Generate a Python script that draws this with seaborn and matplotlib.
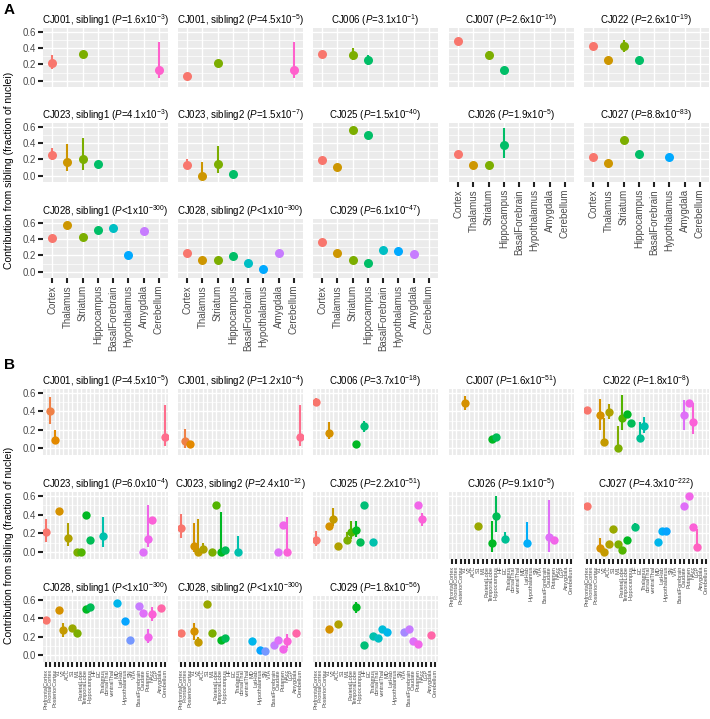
import numpy as np
import pandas as pd
import seaborn as sns
import matplotlib.pyplot as plt
from matplotlib.ticker import MultipleLocator

# ---------------- data ----------------
A_REGIONS = ["Cortex", "Thalamus", "Striatum", "Hippocampus", "BasalForebrain",
             "Hypothalamus", "Amygdala", "Cerebellum"]

B_REGIONS = ["PrefrontalCortex", "FrontalCortex", "PosteriorCortex", "V1", "V2", "ACC",
             "S1", "M1", "ParietalLobe", "TemporalLobe", "Hippocampus", "HF", "EC",
             "Thalamus", "dorsalThal", "ventralThal", "MD", "LatHab", "Hypothalamus",
             "SN", "VTA", "BasalForebrain", "Caudate", "Putamen", "NAcc", "LGP",
             "Amygdala", "Cerebellum"]

# (region, fraction from sibling, ci low, ci high) -- None = no interval shown
A_CJ001_S1 = [("Cortex", 0.22, 0.15, 0.31), ("Striatum", 0.33, None, None), ("Cerebellum", 0.13, 0.03, 0.48)]
A_CJ001_S2 = [("Cortex", 0.06, 0.02, 0.10), ("Striatum", 0.22, None, None), ("Cerebellum", 0.13, 0.03, 0.48)]
A_CJ006 = [("Cortex", 0.33, None, None), ("Striatum", 0.32, 0.26, 0.40), ("Hippocampus", 0.26, 0.19, 0.32)]
A_CJ007 = [("Cortex", 0.49, None, None), ("Striatum", 0.32, 0.27, 0.37), ("Hippocampus", 0.13, None, None)]
A_CJ022 = [("Cortex", 0.43, None, None), ("Thalamus", 0.26, None, None), ("Striatum", 0.42, 0.35, 0.50),
           ("Hippocampus", 0.26, None, None)]
A_CJ023_S1 = [("Cortex", 0.26, 0.19, 0.34), ("Thalamus", 0.17, 0.065, 0.39), ("Striatum", 0.20, 0.07, 0.46),
              ("Hippocampus", 0.14, None, None)]
A_CJ023_S2 = [("Cortex", 0.13, 0.10, 0.20), ("Thalamus", 0.0, 0.0, 0.17), ("Striatum", 0.14, 0.04, 0.37),
              ("Hippocampus", 0.02, None, None)]
A_CJ025 = [("Cortex", 0.19, None, None), ("Thalamus", 0.11, None, None), ("Striatum", 0.56, None, None),
           ("Hippocampus", 0.50, None, None)]
A_CJ026 = [("Cortex", 0.27, None, None), ("Thalamus", 0.13, 0.11, 0.17), ("Striatum", 0.13, None, None),
           ("Hippocampus", 0.38, 0.22, 0.58)]
A_CJ027 = [("Cortex", 0.23, None, None), ("Thalamus", 0.16, None, None), ("Striatum", 0.44, None, None),
           ("Hippocampus", 0.27, None, None), ("Hypothalamus", 0.23, None, None)]
A_CJ028_S1 = [("Cortex", 0.41, None, None), ("Thalamus", 0.57, None, None), ("Striatum", 0.42, None, None),
              ("Hippocampus", 0.51, None, None), ("BasalForebrain", 0.53, None, None),
              ("Hypothalamus", 0.21, None, None), ("Amygdala", 0.50, None, None)]
A_CJ028_S2 = [("Cortex", 0.23, None, None), ("Thalamus", 0.14, None, None), ("Striatum", 0.15, None, None),
              ("Hippocampus", 0.19, None, None), ("BasalForebrain", 0.11, None, None),
              ("Hypothalamus", 0.04, None, None), ("Amygdala", 0.23, None, None)]
A_CJ029 = [("Cortex", 0.36, None, None), ("Thalamus", 0.23, None, None), ("Striatum", 0.14, None, None),
           ("Hippocampus", 0.11, None, None), ("BasalForebrain", 0.27, None, None),
           ("Hypothalamus", 0.25, None, None), ("Amygdala", 0.22, None, None)]

B_CJ001_S1 = [("FrontalCortex", 0.40, 0.26, 0.56), ("PosteriorCortex", 0.09, 0.05, 0.20),
              ("Cerebellum", 0.12, 0.02, 0.47)]
B_CJ001_S2 = [("FrontalCortex", 0.08, 0.0, 0.21), ("PosteriorCortex", 0.04, None, None),
              ("Cerebellum", 0.12, 0.02, 0.47)]
B_CJ006 = [("PrefrontalCortex", 0.50, 0.46, 0.55), ("V1", 0.17, 0.10, 0.28), ("TemporalLobe", 0.04, None, None),
           ("HF", 0.24, 0.18, 0.30)]
B_CJ007 = [("V1", 0.49, 0.42, 0.57), ("TemporalLobe", 0.10, None, None), ("Hippocampus", 0.12, None, None)]
B_CJ022 = [("PrefrontalCortex", 0.42, None, None), ("V1", 0.36, 0.20, 0.54), ("V2", 0.07, 0.07, 0.33),
           ("ACC", 0.39, 0.32, 0.48), ("M1", 0.0, 0.0, 0.24), ("ParietalLobe", 0.33, 0.20, 0.58),
           ("TemporalLobe", 0.37, None, None), ("Hippocampus", 0.27, None, None), ("EC", 0.11, 0.11, 0.28),
           ("Thalamus", 0.24, 0.16, 0.34), ("Caudate", 0.36, 0.20, 0.52), ("Putamen", 0.49, None, None),
           ("NAcc", 0.28, 0.15, 0.49)]
B_CJ023_S1 = [("PrefrontalCortex", 0.21, 0.11, 0.36), ("V1", 0.44, None, None), ("ACC", 0.15, 0.07, 0.31),
              ("M1", 0.0, None, None), ("ParietalLobe", 0.0, None, None), ("TemporalLobe", 0.40, None, None),
              ("Hippocampus", 0.13, None, None), ("Thalamus", 0.17, 0.05, 0.38), ("Caudate", 0.0, None, None),
              ("Putamen", 0.14, 0.05, 0.51), ("NAcc", 0.34, None, None)]
B_CJ023_S2 = [("PrefrontalCortex", 0.26, 0.15, 0.41), ("V1", 0.07, 0.0, 0.31), ("V2", 0.0, 0.0, 0.35),
              ("ACC", 0.03, 0.0, 0.10), ("M1", 0.0, None, None), ("ParietalLobe", 0.51, None, None),
              ("TemporalLobe", 0.0, 0.0, 0.43), ("Hippocampus", 0.02, None, None), ("Thalamus", 0.0, 0.0, 0.17),
              ("Caudate", 0.0, None, None), ("Putamen", 0.29, None, None), ("NAcc", 0.0, 0.0, 0.38)]
B_CJ025 = [("PrefrontalCortex", 0.13, 0.06, 0.23), ("V1", 0.28, None, None), ("V2", 0.36, 0.28, 0.47),
           ("ACC", 0.07, None, None), ("M1", 0.13, 0.09, 0.22), ("ParietalLobe", 0.21, 0.14, 0.33),
           ("TemporalLobe", 0.24, 0.16, 0.33), ("Hippocampus", 0.11, None, None), ("HF", 0.51, None, None),
           ("Thalamus", 0.11, None, None), ("Putamen", 0.51, None, None), ("NAcc", 0.35, 0.28, 0.42)]
B_CJ026 = [("S1", 0.28, None, None), ("TemporalLobe", 0.10, 0.0, 0.33), ("Hippocampus", 0.39, 0.22, 0.60),
           ("EC", 0.14, 0.10, 0.21), ("LatHab", 0.10, 0.06, 0.32), ("Caudate", 0.16, 0.0, 0.56),
           ("Putamen", 0.13, None, None)]
B_CJ027 = [("PrefrontalCortex", 0.49, None, None), ("V1", 0.04, 0.0, 0.15), ("V2", 0.0, None, None),
           ("ACC", 0.09, None, None), ("S1", 0.25, None, None), ("M1", 0.09, None, None),
           ("ParietalLobe", 0.02, None, None), ("TemporalLobe", 0.13, None, None), ("HF", 0.27, 0.24, 0.31),
           ("MD", 0.11, None, None), ("LatHab", 0.23, None, None), ("Hypothalamus", 0.23, None, None),
           ("Caudate", 0.49, None, None), ("Putamen", 0.60, None, None), ("NAcc", 0.27, None, None),
           ("LGP", 0.05, 0.05, 0.25)]
B_CJ028_S1 = [("PrefrontalCortex", 0.38, None, None), ("V1", 0.49, None, None), ("V2", 0.27, 0.20, 0.35),
              ("S1", 0.30, None, None), ("M1", 0.24, None, None), ("TemporalLobe", 0.50, None, None),
              ("Hippocampus", 0.52, None, None), ("MD", 0.57, None, None), ("Hypothalamus", 0.37, None, None),
              ("SN", 0.16, None, None), ("BasalForebrain", 0.54, None, None), ("Caudate", 0.46, None, None),
              ("Putamen", 0.20, 0.13, 0.28), ("NAcc", 0.45, 0.37, 0.53), ("Amygdala", 0.51, None, None)]
B_CJ028_S2 = [("PrefrontalCortex", 0.24, None, None), ("V1", 0.26, 0.17, 0.35), ("V2", 0.14, 0.10, 0.20),
              ("S1", 0.56, None, None), ("M1", 0.24, None, None), ("TemporalLobe", 0.17, None, None),
              ("Hippocampus", 0.19, None, None), ("MD", 0.15, None, None), ("Hypothalamus", 0.06, None, None),
              ("SN", 0.04, None, None), ("BasalForebrain", 0.11, None, None), ("Caudate", 0.17, None, None),
              ("Putamen", 0.07, None, None), ("NAcc", 0.15, 0.08, 0.23), ("Amygdala", 0.24, None, None)]
B_CJ029 = [("V1", 0.28, None, None), ("ACC", 0.34, None, None), ("TemporalLobe", 0.52, 0.46, 0.58),
           ("HF", 0.11, None, None), ("Thalamus", 0.21, None, None), ("dorsalThal", 0.19, None, None),
           ("ventralThal", 0.28, None, None), ("MD", 0.25, None, None), ("VTA", 0.25, None, None),
           ("BasalForebrain", 0.28, None, None), ("Caudate", 0.15, None, None), ("Putamen", 0.12, None, None),
           ("Amygdala", 0.22, None, None)]

FACETS = ["CJ001, sibling1", "CJ001, sibling2", "CJ006", "CJ007", "CJ022",
          "CJ023, sibling1", "CJ023, sibling2", "CJ025", "CJ026", "CJ027",
          "CJ028, sibling1", "CJ028, sibling2", "CJ029"]
A_PVAL = [("=", "1.6", "-3"), ("=", "4.5", "-5"), ("=", "3.1", "-1"), ("=", "2.6", "-16"), ("=", "2.6", "-19"),
          ("=", "4.1", "-3"), ("=", "1.5", "-7"), ("=", "1.5", "-40"), ("=", "1.9", "-5"), ("=", "8.8", "-83"),
          ("<", "1", "-300"), ("<", "1", "-300"), ("=", "6.1", "-47")]
B_PVAL = [("=", "4.5", "-5"), ("=", "1.2", "-4"), ("=", "3.7", "-18"), ("=", "1.6", "-51"), ("=", "1.8", "-8"),
          ("=", "6.0", "-4"), ("=", "2.4", "-12"), ("=", "2.2", "-51"), ("=", "9.1", "-5"), ("=", "4.3", "-222"),
          ("<", "1", "-300"), ("<", "1", "-300"), ("=", "1.8", "-56")]

A_DATA = [A_CJ001_S1, A_CJ001_S2, A_CJ006, A_CJ007, A_CJ022, A_CJ023_S1, A_CJ023_S2,
          A_CJ025, A_CJ026, A_CJ027, A_CJ028_S1, A_CJ028_S2, A_CJ029]
B_DATA = [B_CJ001_S1, B_CJ001_S2, B_CJ006, B_CJ007, B_CJ022, B_CJ023_S1, B_CJ023_S2,
          B_CJ025, B_CJ026, B_CJ027, B_CJ028_S1, B_CJ028_S2, B_CJ029]


# ggplot-style hue palette (HCL, l=65, c=100)
def hue_pal(n, l=65.0, c=100.0):
    out = []
    m = np.array([[3.2406, -1.5372, -0.4986], [-0.9689, 1.8758, 0.0415], [0.0557, -0.2040, 1.0570]])
    for h in np.deg2rad(np.linspace(15, 375, n + 1)[:n]):
        u, v = c * np.cos(h), c * np.sin(h)
        Y = ((l + 16) / 116) ** 3
        up = u / (13 * l) + 0.19783
        vp = v / (13 * l) + 0.46832
        X = Y * 9 * up / (4 * vp)
        Z = Y * (12 - 3 * up - 20 * vp) / (4 * vp)
        rgb = np.clip(m @ np.array([X, Y, Z]), 0, None)
        rgb = np.where(rgb <= 0.0031308, 12.92 * rgb, 1.055 * rgb ** (1 / 2.4) - 0.055)
        out.append(tuple(np.clip(rgb, 0, 1)))
    return out


plt.rcParams["font.family"] = ["Liberation Sans", "DejaVu Sans"]
plt.rcParams["mathtext.fontset"] = "custom"
plt.rcParams["mathtext.rm"] = "Liberation Sans"
plt.rcParams["mathtext.it"] = "Liberation Sans:italic"

W, H = 710, 719
COL_X = [43, 178, 313, 449, 584]
PANEL_W = 125
A_ROWS = [(28, 87), (123, 182), (219, 278)]
B_ROWS = [(389, 455), (492, 559), (596, 662)]

fig = plt.figure(figsize=(W / 100, H / 100), dpi=100)


def draw_group(data, pvals, order, rows, dot, xfs, tick_len):
    colors = hue_pal(len(order))
    n = len(data)
    for k, pts in enumerate(data):
        r, c = divmod(k, 5)
        top, bot = rows[r]
        ax = fig.add_axes([COL_X[c] / W, 1 - bot / H, PANEL_W / W, (bot - top) / H])
        df = pd.DataFrame(pts, columns=["region", "frac", "lo", "hi"])
        ci = df.dropna(subset=["lo"])
        if len(ci):
            idx = [order.index(g) for g in ci["region"]]
            ax.vlines(idx, ci["lo"].astype(float), ci["hi"].astype(float),
                      colors=[colors[i] for i in idx], lw=1.5, zorder=2)
        sns.stripplot(data=df, x="region", y="frac", hue="region", order=order, hue_order=order,
                      palette=colors, jitter=False, size=dot, linewidth=0, legend=False,
                      ax=ax, zorder=3)
        ax.set_facecolor("#EBEBEB")
        for s in ax.spines.values():
            s.set_visible(False)
        ax.set_xlim(-0.6, len(order) - 0.4)
        ax.set_ylim(-0.075, 0.645)
        ax.set_yticks([0, 0.2, 0.4, 0.6])
        ax.yaxis.set_minor_locator(MultipleLocator(0.1))
        ax.set_axisbelow(True)
        ax.grid(True, which="major", color="white", lw=1.0)
        ax.grid(True, which="minor", axis="y", color="white", lw=0.5)
        ax.set_xlabel("")
        ax.set_ylabel("")
        ax.tick_params(which="minor", length=0)
        ax.tick_params(axis="both", color="#222222", width=1.5, length=tick_len,
                       labelcolor="#4D4D4D", labelsize=7, pad=1.5)
        if c == 0:
            ax.set_yticklabels(["0.0", "0.2", "0.4", "0.6"])
        else:
            ax.tick_params(axis="y", left=False, labelleft=False)
        if k + 5 >= n:
            ax.set_xticks(range(len(order)))
            ax.set_xticklabels(order, rotation=90, fontsize=xfs)
        else:
            ax.tick_params(axis="x", bottom=False, labelbottom=False)
        op, mant, ex = pvals[k]
        ax.set_title(f"{FACETS[k]} ($\\it{{P}}${op}{mant}x10$^{{{ex}}}$)", fontsize=7, pad=3)


draw_group(A_DATA, A_PVAL, A_REGIONS, A_ROWS, 6.5, 7, 3.5)
draw_group(B_DATA, B_PVAL, B_REGIONS, B_ROWS, 6.0, 4, 3.5)

fig.text(4 / W, 1 - 3 / H, "A", fontsize=11, fontweight="bold", va="top", ha="left")
fig.text(4 / W, 1 - 358 / H, "B", fontsize=11, fontweight="bold", va="top", ha="left")
ylab = "Contribution from sibling (fraction of nuclei)"
fig.text(9 / W, 1 - 170 / H, ylab, rotation=90, va="center", ha="center", fontsize=7.5)
fig.text(9 / W, 1 - 545 / H, ylab, rotation=90, va="center", ha="center", fontsize=7.5)

fig.savefig("out.png", dpi=100)
